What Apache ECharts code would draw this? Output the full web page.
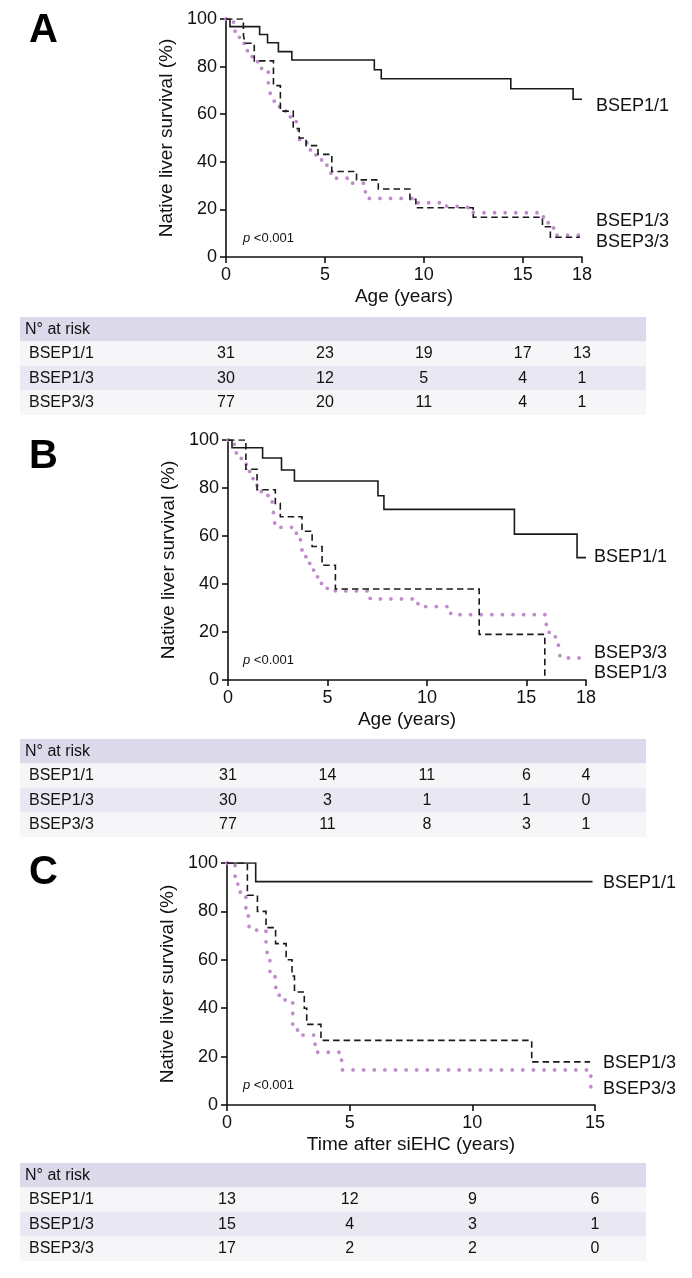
<!DOCTYPE html>
<html><head><meta charset="utf-8">
<script src="https://cdn.jsdelivr.net/npm/echarts@6/dist/echarts.min.js"></script>
<style>html,body{margin:0;padding:0;background:#fff}#c{width:692px;height:1278px}</style>
</head><body><div id="c"></div>
<script>
// ---------- data ----------
const groups = ['BSEP1/1', 'BSEP1/3', 'BSEP3/3'];

// Panel A (Age, years)
const A_t11 = [0, 0.2, 1.7, 2.1, 2.65, 3.33, 7.5, 7.85, 14.4, 17.55, 18];
const A_s11 = [100, 96.8, 93.5, 90.0, 86.3, 82.8, 78.7, 74.9, 70.7, 66.3, 66.3];
const A_t13 = [0, 0.88, 0.96, 1.43, 2.4, 2.75, 3.4, 3.7, 4.05, 4.65, 5.35, 6.6, 7.7, 9.3, 9.6, 12.5, 16.0, 16.4, 17.9];
const A_s13 = [100, 93.3, 89.8, 82.4, 72.0, 61.3, 54.0, 50.0, 46.8, 43.1, 35.9, 32.4, 28.6, 24.2, 20.7, 16.7, 12.7, 8.3, 8.3];
const A_t33 = [0, 0.3, 0.46, 0.66, 0.88, 1.08, 1.32, 1.6, 1.8, 2.14, 2.23, 2.31, 2.62, 2.9, 3.16, 3.55, 3.66, 3.97, 4.25, 4.5, 4.76, 5.1, 5.18, 5.43, 6.28, 6.95, 7.2, 9.55, 11.1, 11.5, 12.35, 16.05, 16.2, 16.5, 16.7, 17.95];
const A_s33 = [100, 98.7, 94.7, 92.3, 89.8, 86.7, 84.2, 81.0, 77.9, 73.0, 69.0, 65.5, 63.2, 61.3, 58.9, 53.4, 49.4, 48.0, 45.0, 42.9, 40.8, 38.7, 35.2, 33.1, 31.0, 27.4, 24.6, 22.8, 21.4, 20.7, 18.6, 16.2, 14.4, 12.2, 9.2, 6.2];

// Panel B (Age, years)
const B_t11 = [0, 0.2, 1.74, 2.69, 3.34, 7.54, 7.84, 14.4, 17.55, 18];
const B_s11 = [100, 96.8, 92.5, 87.5, 82.9, 76.8, 71.1, 60.8, 51.0, 51.0];
const B_t13 = [0, 0.9, 1.46, 2.38, 2.63, 3.72, 4.23, 4.73, 5.4, 12.63, 15.93];
const B_s13 = [100, 87.8, 79.3, 73.6, 68.0, 62.0, 55.6, 47.8, 37.9, 19.0, 0];
const B_t33 = [0, 0.3, 0.42, 0.67, 0.92, 1.09, 1.26, 1.46, 1.68, 2.01, 2.22, 2.3, 2.35, 2.63, 3.44, 3.64, 3.7, 3.86, 4.06, 4.3, 4.48, 4.7, 4.99, 5.4, 7.15, 9.55, 9.9, 11.2, 15.98, 16.02, 16.15, 16.57, 16.65, 16.7, 17.8];
const B_s33 = [100, 98.2, 94.4, 91.7, 89.6, 86.4, 82.9, 79.9, 77.8, 76.1, 72.9, 69.0, 65.3, 63.6, 60.8, 57.6, 54.2, 51.4, 48.6, 45.8, 43.0, 40.0, 38.2, 37.1, 33.8, 31.5, 30.6, 27.2, 25.7, 21.1, 18.0, 17.0, 12.5, 9.2, 9.2];

// Panel C (Time after siEHC, years)
const C_t11 = [0, 1.17, 14.9];
const C_s11 = [100, 92.3, 92.3];
const C_t13 = [0, 0.83, 1.24, 1.59, 1.98, 2.41, 2.65, 2.75, 3.15, 3.25, 3.83, 12.42, 14.8];
const C_s13 = [100, 86.7, 80.0, 73.3, 66.7, 60.0, 53.3, 46.7, 40.0, 33.3, 26.7, 17.8, 17.8];
const C_t33 = [0, 0.33, 0.44, 0.54, 0.77, 0.87, 0.92, 1.59, 1.66, 1.75, 1.96, 2.02, 2.13, 2.68, 2.95, 3.59, 4.67, 14.83];
const C_s33 = [100, 93.4, 90.0, 86.5, 79.9, 76.2, 72.3, 65.4, 61.7, 53.4, 50.5, 46.8, 43.4, 31.0, 28.9, 21.8, 14.5, 3.4];

// x tick labels
const ticksAB = [0, 5, 10, 15, 18];
const ticksC = [0, 5, 10, 15];
const yTicks = [0, 20, 40, 60, 80, 100];

// numbers at risk
const riskA = [[31, 23, 19, 17, 13], [30, 12, 5, 4, 1], [77, 20, 11, 4, 1]];
const riskB = [[31, 14, 11, 6, 4], [30, 3, 1, 1, 0], [77, 11, 8, 3, 1]];
const riskC = [[13, 12, 9, 6], [15, 4, 3, 1], [17, 2, 2, 0]];

const panelLetters = ['A', 'B', 'C'];
const xTitles = ['Age (years)', 'Age (years)', 'Time after siEHC (years)'];
const yTitle = 'Native liver survival (%)';
const riskHeader = 'N° at risk';

// ---------- layout ----------
const FONT = '"Liberation Sans", Arial, Helvetica, sans-serif';
const P = [
  { left: 226, top: 19, width: 356, height: 238, xmax: 18, ticks: ticksAB, risk: riskA, tableTop: 317, letterY: 31,
    curves: [[A_t11, A_s11], [A_t13, A_s13], [A_t33, A_s33]],
    labels: [[596, 106, 0], [596, 221, 1], [596, 242, 2]], pY: 238 },
  { left: 228, top: 440, width: 358, height: 240, xmax: 18, ticks: ticksAB, risk: riskB, tableTop: 739, letterY: 457,
    curves: [[B_t11, B_s11], [B_t13, B_s13], [B_t33, B_s33]],
    labels: [[594, 557, 0], [594, 653, 2], [594, 673, 1]], pY: 660 },
  { left: 227, top: 863, width: 368, height: 242, xmax: 15, ticks: ticksC, risk: riskC, tableTop: 1163, letterY: 873,
    curves: [[C_t11, C_s11], [C_t13, C_s13], [C_t33, C_s33]],
    labels: [[603, 883, 0], [603, 1063, 1], [603, 1089, 2]], pY: 1085 }
];
const styles = [
  { color: '#1a1a1a', width: 1.6, type: 'solid' },
  { color: '#1a1a1a', width: 1.6, type: [6.5, 4] },
  { color: '#c08bcb', width: 3.8, type: [0.01, 10.6], cap: 'round' }
];
const ROWH = 24.5, TX0 = 20, TX1 = 646;
const rowFills = ['#dcd9ea', '#f6f6f9', '#e9e7f2', '#f6f6f9'];

const grids = [], xAxes = [], yAxes = [], series = [], graphics = [];
P.forEach((p, i) => {
  grids.push({ left: p.left, top: p.top, width: p.width, height: p.height, containLabel: false });
  xAxes.push({
    type: 'value', gridIndex: i, min: 0, max: p.xmax, interval: 5,
    name: xTitles[i], nameLocation: 'middle', nameGap: 30,
    nameTextStyle: { fontSize: 19, color: '#111', fontFamily: FONT },
    axisLine: { show: true, onZero: false, lineStyle: { color: '#111', width: 1.6 } },
    axisTick: { show: true, length: 6, lineStyle: { color: '#111', width: 1.6 }, customValues: p.ticks },
    axisLabel: { fontSize: 18, color: '#111', fontFamily: FONT, margin: 9, customValues: p.ticks },
    splitLine: { show: false }
  });
  yAxes.push({
    type: 'value', gridIndex: i, min: 0, max: 100, interval: 20,
    name: yTitle, nameLocation: 'middle', nameGap: 47,
    nameTextStyle: { fontSize: 19, color: '#111', fontFamily: FONT },
    axisLine: { show: true, lineStyle: { color: '#111', width: 1.6 } },
    axisTick: { show: true, length: 6, lineStyle: { color: '#111', width: 1.6 } },
    axisLabel: { fontSize: 18, color: '#111', fontFamily: FONT, margin: 9 },
    splitLine: { show: false }
  });
  p.curves.forEach((c, k) => {
    const st = styles[k];
    series.push({
      type: 'line', name: groups[k], xAxisIndex: i, yAxisIndex: i, step: 'end',
      data: c[0].map((t, j) => [t, c[1][j]]),
      showSymbol: false, symbol: 'none', animation: false, silent: true, z: 3 - k + 2,
      lineStyle: { color: st.color, width: st.width, type: st.type, cap: st.cap || 'butt', join: 'miter' }
    });
  });
  // panel letter
  graphics.push({ type: 'text', left: 29, top: p.letterY - 20,
    style: { text: panelLetters[i], font: 'bold 40px ' + FONT, fill: '#000' } });
  // p-value
  graphics.push({ type: 'text', x: 243, y: p.pY,
    style: { text: '{i|p} <0.001', rich: { i: { fontStyle: 'italic', fontSize: 13, fontFamily: FONT, fill: '#111' } },
      fontSize: 13, fontFamily: FONT, fill: '#111', verticalAlign: 'middle' } });
  // curve labels
  p.labels.forEach(l => {
    graphics.push({ type: 'text', x: l[0], y: l[1],
      style: { text: groups[l[2]], fontSize: 18, fontFamily: FONT, fill: '#111', verticalAlign: 'middle' } });
  });
  // risk table
  for (let r = 0; r < 4; r++) {
    graphics.push({ type: 'rect', shape: { x: TX0, y: p.tableTop + r * ROWH, width: TX1 - TX0, height: ROWH },
      style: { fill: rowFills[r] }, z: 0 });
  }
  graphics.push({ type: 'text', x: 25, y: p.tableTop + ROWH / 2,
    style: { text: riskHeader, fontSize: 16, fontFamily: FONT, fill: '#111', verticalAlign: 'middle' } });
  p.risk.forEach((row, r) => {
    const cy = p.tableTop + (r + 1) * ROWH + ROWH / 2;
    graphics.push({ type: 'text', x: 29, y: cy,
      style: { text: groups[r], fontSize: 16, fontFamily: FONT, fill: '#111', verticalAlign: 'middle' } });
    row.forEach((v, j) => {
      const cx = p.left + p.ticks[j] / p.xmax * p.width;
      graphics.push({ type: 'text', x: cx, y: cy,
        style: { text: String(v), fontSize: 16, fontFamily: FONT, fill: '#111', align: 'center', verticalAlign: 'middle' } });
    });
  });
});

const chart = echarts.init(document.getElementById('c'), null, { renderer: 'canvas', width: 692, height: 1278 });
chart.setOption({
  animation: false,
  backgroundColor: '#fff',
  grid: grids, xAxis: xAxes, yAxis: yAxes, series: series, graphic: graphics
});
</script></body></html>
